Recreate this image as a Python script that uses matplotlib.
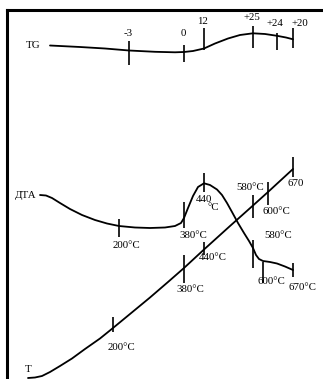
import matplotlib
matplotlib.use("Agg")
import matplotlib.pyplot as plt

# curves (pixel-like units, y grows downward)
tg_x = [50, 80, 105, 129, 155, 175, 184, 193, 204, 215, 228, 240, 253, 265, 277, 286, 293]
tg_y = [45.5, 47, 48.5, 50.5, 51.8, 52.3, 52, 51, 48.5, 43.5, 38.5, 35, 33.3, 34, 35.8, 37.5, 39.3]

dta_x = [40, 46, 52, 60, 70, 82, 95, 107, 119, 135, 150, 165, 175, 181, 184, 188, 193, 198, 204,
         210, 217, 222, 227, 232, 238, 244, 249, 253, 256, 259, 263, 270, 277, 285, 293]
dta_y = [195, 195.5, 198, 203, 209, 215, 220, 223.5, 226, 227.5, 228, 227.5, 226, 223, 218, 208, 196, 187, 183.3,
         185, 189.5, 195, 203, 212, 223, 233, 241, 248, 255, 259, 261, 262, 263.5, 266.5, 270]

t_x = [28, 35, 42, 50, 60, 72, 85, 100, 113, 130, 150, 168, 184, 204, 230, 253, 268, 293]
t_y = [378, 377.5, 376, 372, 366, 358.5, 349, 338.5, 328, 314, 297.5, 282, 268, 249.5, 226, 205.5, 192, 169]

# tick marks: x, top, bottom
tick_x = [129, 184, 204, 253, 277, 293,
          119, 184, 204, 253, 263, 293,
          113, 184, 204, 253, 268, 293]
tick_top = [41, 45, 28, 26, 33, 28,
            219, 202, 173, 240, 262, 263,
            317, 255, 242, 195, 182, 157]
tick_bot = [65, 62, 50, 48, 50, 48,
            237, 228, 192, 268, 283, 277,
            332, 283, 255, 218, 205, 177]

# labels
lab_x = [33, 128, 183, 203, 252, 275, 300,
         26, 126, 193, 204, 213, 278, 271, 302,
         28, 121, 190, 213, 250, 276, 296]
lab_y = [46, 34, 33, 22, 18, 24, 24,
         196, 246, 236, 199, 207, 236, 282, 288,
         370, 347, 289, 258, 187, 212, 184]
lab_s = ["TG", "-3", "0", "12", "+25", "+24", "+20",
         "ДТА", "200°C", "380°C", "440", "°C", "580°C", "600°C", "670°C",
         "T", "200°C", "380°C", "440°C", "580°C", "600°C", "670"]

fig = plt.figure(figsize=(3.23, 3.79), dpi=100)
ax = fig.add_axes([0, 0, 1, 1])
ax.set_xlim(0, 323)
ax.set_ylim(379, 0)
ax.axis("off")

# frame (left and top only)
ax.axvline(7, ymin=0, ymax=(379 - 10) / 379, color="black", lw=2.2)
ax.axhline(10, xmin=7 / 323, xmax=1, color="black", lw=2.2)

for xs, ys in [(tg_x, tg_y), (dta_x, dta_y), (t_x, t_y)]:
    ax.plot(xs, ys, color="black", lw=1.3, solid_capstyle="round")

ax.vlines(tick_x, tick_top, tick_bot, color="black", lw=1.2)

for x, y, s in zip(lab_x, lab_y, lab_s):
    ax.text(x, y, s, ha="center", va="center", fontsize=7.8,
            family=["Liberation Serif", "DejaVu Serif"])

plt.savefig("out.png", dpi=100)
plt.close()
